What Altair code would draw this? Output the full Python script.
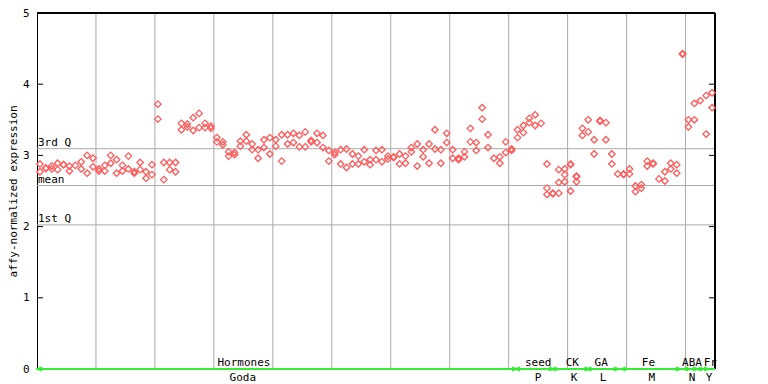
import altair as alt
import pandas as pd

# ---- data ----
# per-sample expression values (up to three replicate points per sample)
values_1 = [2.88, 2.82, 2.85, 2.89, 2.87, 2.85, 2.86, 2.91, 3.00, 2.96,
            2.81, 2.86, 3.00, 2.94, 2.86, 2.99, 2.77, 2.90, 2.77, 2.87,
            3.72, 2.90, 2.90, 2.90, 3.45, 3.44, 3.53, 3.59, 3.45, 3.41,
            3.25, 3.19, 3.05, 3.04, 3.20, 3.29, 3.16, 3.08, 3.22, 3.25,
            3.22, 3.29, 3.29, 3.31, 3.28, 3.33, 3.21, 3.31, 3.28, 3.07,
            3.04, 3.08, 3.09, 3.02, 2.99, 3.08, 2.94, 3.07, 3.08, 2.99,
            2.98, 3.02, 2.99, 3.11, 3.16, 3.08, 3.16, 3.36, 3.08, 3.31,
            3.08, 2.96, 3.05, 3.38, 3.18, 3.67, 3.29, 2.96, 2.98, 3.19,
            3.09, 3.36, 3.42, 3.52, 3.57, 3.45, 2.88, 2.47, 2.80, 2.81,
            2.88, 2.71, 3.38, 3.50, 3.22, 3.49, 3.46, 3.02, 2.74, 2.74,
            2.81, 2.57, 2.59, 2.92, 2.89, 2.67, 2.77, 2.89, 2.87, 4.43,
            3.50, 3.73, 3.77, 3.84, 3.88]
values_2 = [2.77, 2.82, 2.81, 2.80, 2.87, 2.78, None, 2.81, 2.75, 2.84,
            2.78, 2.78, 2.89, 2.75, 2.78, 2.81, 2.75, 2.80, 2.68, 2.73,
            3.51, 2.66, 2.80, 2.77, 3.36, 3.40, 3.35, 3.39, 3.39, 3.38,
            3.19, 3.15, 2.99, 3.01, 3.13, 3.20, 3.08, 2.96, 3.11, 3.02,
            3.13, 2.92, 3.16, 3.18, 3.12, 3.12, 3.19, 3.18, 3.11, 2.92,
            3.01, 2.88, 2.83, 2.88, 2.88, 2.91, 2.87, 2.94, 2.91, 2.95,
            2.97, 2.88, 2.89, 3.05, 2.85, 2.98, 2.89, 3.09, 2.89, 3.18,
            2.96, 2.94, 2.98, 3.19, 3.07, 3.51, 3.11, None, 2.89, 3.04,
            3.07, 3.25, 3.32, 3.46, 3.42, None, 2.54, 2.46, 2.62, 2.73,
            2.87, 2.70, 3.28, 3.33, 3.02, 3.48, 3.22, 2.88, None, 2.73,
            2.74, 2.49, 2.54, 2.85, 2.88, None, 2.64, 2.81, 2.75, 4.42,
            3.40, 3.50, None, 3.30, 3.67]
values_3 = {86: 2.45, 88: 2.47, 89: 2.63, 90: 2.50, 91: 2.63}

ref_names = ["3rd Q", "mean", "1st Q"]
ref_values = [3.094, 2.577, 2.024]

y_ticks = [0, 1, 2, 3, 4, 5]
grid_cols = [10, 20, 30, 40, 50, 60, 70, 80, 90, 100, 110]

group_names = ["Hormones", "seed", "CK", "GA", "Fe", "ABA", "Fr"]
group_codes = ["Goda", "P", "K", "L", "M", "N", "Y"]
group_label_pos = [35.1, 85.0, 90.8, 95.7, 103.7, 111.1, 114.2]
group_code_pos = [34.9, 85.0, 91.1, 96.0, 104.3, 111.1, 114.0]
group_start = [0.4, 81.5, 87.7, 93.6, 99.4, 110.0, 112.3]
group_end = [81.0, 87.3, 93.3, 98.3, 108.8, 111.7, 113.6]

N_COLS = 115
W, H = 678, 356
FONT = "DejaVu Sans Mono"
RED = "#ff5a5a"
GRID = "#aaaaaa"
GREEN = "#33ee33"

rows = []
for i in range(N_COLS):
    for v in (values_1[i], values_2[i], values_3.get(i)):
        if v is not None:
            rows.append({"col": i + 0.5, "value": v})
points_df = pd.DataFrame(rows)

xs = alt.Scale(domain=[0, N_COLS], nice=False, zero=False)
ys = alt.Scale(domain=[0, 5], nice=False, zero=True)

y_axis = alt.Axis(values=y_ticks, format="d", tickSize=0, labelPadding=8,
                  grid=False, domain=True, domainColor="black", domainWidth=1,
                  labelFont=FONT, labelFontSize=11, labelColor="black",
                  title="affy-normalized expression", titleFont=FONT,
                  titleFontSize=11, titleFontWeight="normal", titleColor="black",
                  titleX=-24, titleY=178, titleAngle=-90, titleAlign="center",
                  titleBaseline="middle")

grid_df = pd.DataFrame({"col": grid_cols})
vgrid = alt.Chart(grid_df).mark_rule(color=GRID, strokeWidth=1).encode(
    x=alt.X("col:Q", scale=xs, axis=None), y=alt.value(0), y2=alt.value(H))

ref_df = pd.DataFrame({"name": ref_names, "value": ref_values})
hgrid = alt.Chart(ref_df).mark_rule(color=GRID, strokeWidth=1).encode(
    y=alt.Y("value:Q", scale=ys, axis=y_axis), x=alt.value(0), x2=alt.value(W))
ref_text = alt.Chart(ref_df).mark_text(
    align="left", baseline="alphabetic", dx=1, dy=-3, font=FONT, fontSize=11,
    color="black").encode(y=alt.Y("value:Q", scale=ys), x=alt.value(0), text="name:N")

tick_df = pd.DataFrame({"t": y_ticks})
left_ticks = alt.Chart(tick_df).mark_rule(color="black").encode(
    y=alt.Y("t:Q", scale=ys), x=alt.value(0), x2=alt.value(6))
right_ticks = alt.Chart(tick_df).mark_rule(color="black").encode(
    y=alt.Y("t:Q", scale=ys), x=alt.value(W - 6), x2=alt.value(W))

top_line = alt.Chart(tick_df).mark_rule(color="black").encode(
    x=alt.value(0), x2=alt.value(W), y=alt.value(0))
right_line = alt.Chart(tick_df).mark_rule(color="black").encode(
    x=alt.value(W), y=alt.value(0), y2=alt.value(H))
base_line = alt.Chart(tick_df).mark_rule(color=GREEN, strokeWidth=2).encode(
    x=alt.value(0), x2=alt.value(W), y=alt.value(H))

pts = alt.Chart(points_df).mark_point(
    shape="diamond", filled=False, size=42, color=RED, strokeWidth=1.3, opacity=1
).encode(x=alt.X("col:Q", scale=xs), y=alt.Y("value:Q", scale=ys))

grp_df = pd.DataFrame({"name": group_names, "code": group_codes,
                       "lp": group_label_pos, "cp": group_code_pos,
                       "s": group_start, "e": group_end})
grp_top = alt.Chart(grp_df).mark_text(
    baseline="alphabetic", dy=-3, font=FONT, fontSize=11, color="black").encode(
    x=alt.X("lp:Q", scale=xs), y=alt.value(H), text="name:N")
grp_bot = alt.Chart(grp_df).mark_text(
    baseline="alphabetic", dy=12, font=FONT, fontSize=11, color="black").encode(
    x=alt.X("cp:Q", scale=xs), y=alt.value(H), text="code:N")
arrow_l = alt.Chart(grp_df).mark_point(
    shape="M 1 -0.7 L -1 0 L 1 0.7", filled=False, size=30, color=GREEN,
    strokeWidth=1.3, opacity=1).encode(x=alt.X("s:Q", scale=xs), y=alt.value(H))
arrow_r = alt.Chart(grp_df).mark_point(
    shape="M -1 -0.7 L 1 0 L -1 0.7", filled=False, size=30, color=GREEN,
    strokeWidth=1.3, opacity=1).encode(x=alt.X("e:Q", scale=xs), y=alt.value(H))

chart = alt.layer(
    vgrid, hgrid, ref_text, left_ticks, right_ticks, top_line, right_line,
    base_line, arrow_l, arrow_r, pts, grp_top, grp_bot
).properties(
    width=W, height=H,
    autosize=alt.AutoSizeParams(type="none"),
    padding={"left": 29, "top": 5, "right": 40, "bottom": 20},
).configure_view(stroke=None)

chart.save("out.html", embed_options={"renderer": "svg", "actions": False})
